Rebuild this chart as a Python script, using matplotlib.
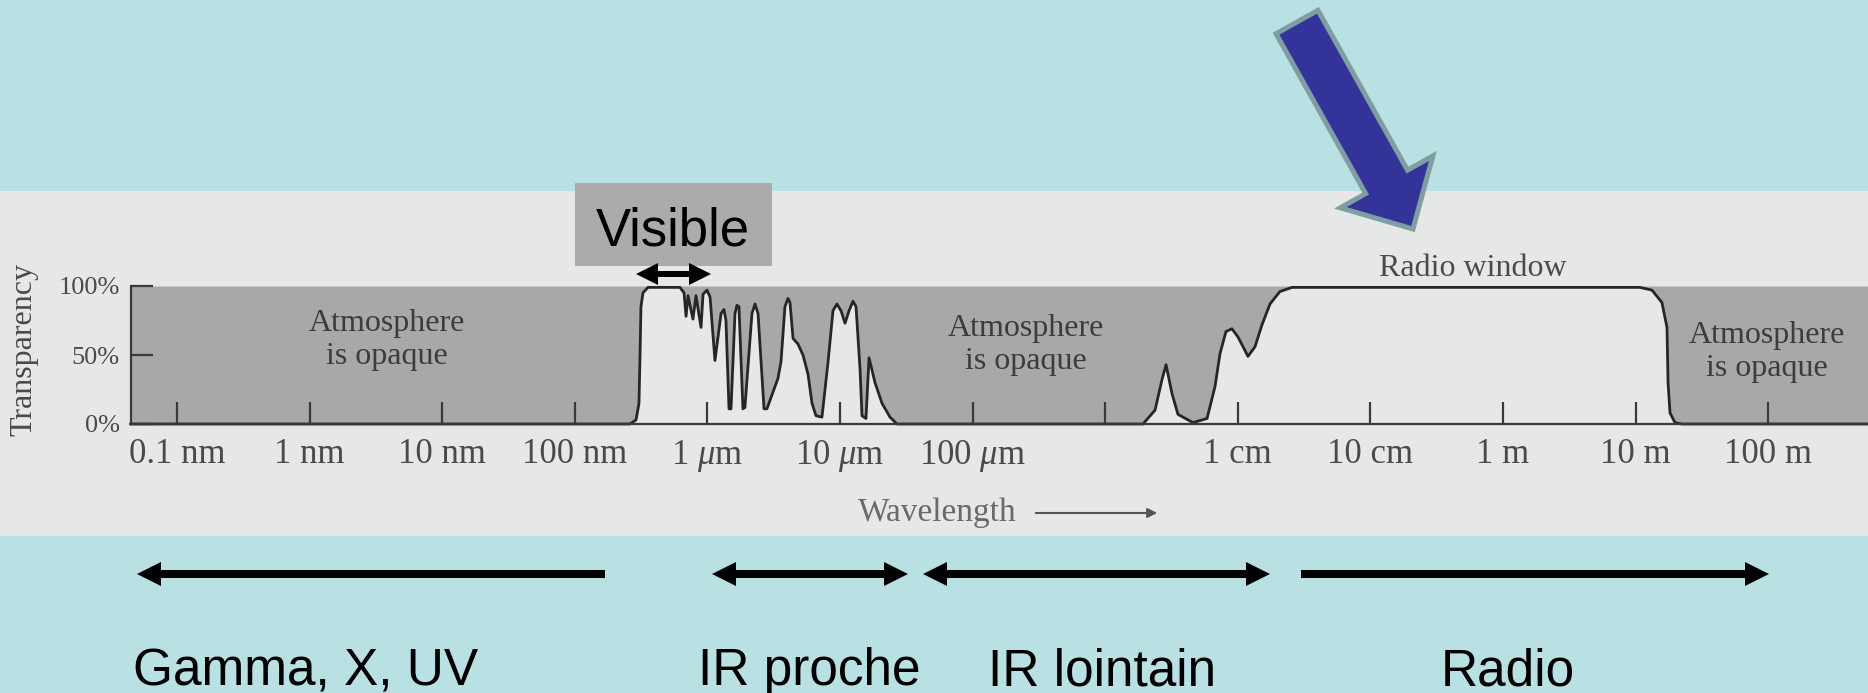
import matplotlib
matplotlib.use("Agg")
import matplotlib.pyplot as plt
from matplotlib.patches import Rectangle, FancyArrow

# Atmospheric transparency versus wavelength (log10 of wavelength in metres)
log_wavelength_m = [
    -10.35, -6.584, -6.538, -6.516, -6.508, -6.501, -6.486, -6.448, -6.207, -6.176,
    -6.161, -6.146, -6.109, -6.086, -6.048, -6.033, -6.003, -5.980, -5.943, -5.897,
    -5.875, -5.860, -5.837, -5.822, -5.792, -5.777, -5.762, -5.732, -5.717, -5.664,
    -5.641, -5.618, -5.573, -5.551, -5.468, -5.445, -5.415, -5.392, -5.377, -5.354,
    -5.317, -5.279, -5.241, -5.211, -5.181, -5.136, -5.090, -5.053, -5.023, -4.992,
    -4.962, -4.932, -4.902, -4.879, -4.849, -4.834, -4.804, -4.781, -4.736, -4.683,
    -4.623, -4.570, -2.715, -2.624, -2.572, -2.541, -2.496, -2.451, -2.338, -2.232,
    -2.172, -2.134, -2.089, -2.044, -1.998, -1.923, -1.870, -1.817, -1.757, -1.682,
    -1.591, 1.033, 1.124, 1.199, 1.237, 1.245, 1.260, 1.297, 1.350, 2.76,
]
transparency_pct = [
    0, 0, 3, 15, 50, 85, 95, 99, 99, 95,
    78, 93, 76, 93, 70, 94, 97, 92, 46, 80,
    83, 75, 11, 11, 80, 86, 85, 11, 12, 80,
    87, 80, 11, 11, 33, 45, 85, 91, 88, 62,
    58, 50, 36, 15, 6, 5, 45, 82, 87, 82,
    73, 82, 89, 85, 40, 6, 4, 48, 30, 15,
    5, 0, 0, 10, 32, 43, 22, 7, 1, 4,
    27, 51, 67, 69, 63, 49, 56, 72, 87, 96,
    99, 99, 97, 88, 70, 30, 8, 1, 0, 0,
]

tick_positions = list(range(-10, 3))
tick_labels = ["0.1 nm", "1 nm", "10 nm", "100 nm", r"1 $\mu$m", r"10 $\mu$m",
               r"100 $\mu$m", "", "1 cm", "10 cm", "1 m", "10 m", "100 m"]
y_ticks = [0, 50, 100]
y_tick_labels = ["0%", "50%", "100%"]

opaque_label = "Atmosphere\nis opaque"
band_names = ["Gamma, X, UV", "IR proche", "IR lointain", "Radio"]

plt.rcParams["font.family"] = ["Liberation Serif", "DejaVu Serif"]
plt.rcParams["mathtext.fontset"] = "custom"
plt.rcParams["mathtext.rm"] = "Liberation Serif"
plt.rcParams["mathtext.it"] = "Liberation Serif:italic"

W, H = 1868, 693
fig = plt.figure(figsize=(W / 100, H / 100), dpi=100)
fig.patch.set_facecolor("#B9E0E3")

# Background layer in pixel coordinates
bg = fig.add_axes([0, 0, 1, 1], zorder=0)
bg.set_xlim(0, W)
bg.set_ylim(H, 0)
bg.axis("off")
bg.add_patch(Rectangle((0, 191), W, 345, facecolor="#E6E7E7", lw=0))

# Transparency chart
ax = fig.add_axes([131 / W, 1 - 424 / H, 1 - 131 / W, 138 / H], zorder=1)
ax.patch.set_alpha(0)
ax.set_xlim(-10.347, 2.753)
ax.set_ylim(0, 100)
ax.fill_between(log_wavelength_m, transparency_pct, 100, color="#A8A8A8", lw=0)
ax.plot(log_wavelength_m, transparency_pct, color="#262626", lw=2.0, clip_on=False,
        solid_joinstyle="round")
for side in ["top", "right"]:
    ax.spines[side].set_visible(False)
for side in ["left", "bottom"]:
    ax.spines[side].set_color("#3a3a3a")
    ax.spines[side].set_linewidth(1.6)
ax.set_xticks(tick_positions)
ax.set_xticklabels(tick_labels)
ax.set_yticks(y_ticks)
ax.set_yticklabels(y_tick_labels)
ax.tick_params(axis="x", direction="in", length=16, width=1.6, color="#3a3a3a",
               pad=10, labelsize=25, labelcolor="#4a4a4a")
ax.tick_params(axis="y", direction="in", length=16, width=1.6, color="#3a3a3a",
               pad=8, labelsize=19, labelcolor="#4a4a4a")

# Annotation layer in pixel coordinates
ov = fig.add_axes([0, 0, 1, 1], zorder=3)
ov.set_xlim(0, W)
ov.set_ylim(H, 0)
ov.axis("off")
ov.patch.set_alpha(0)

for x, y in [(387, 340), (1026, 345), (1767, 352)]:
    ov.text(x, y, opaque_label, ha="center", va="center", fontsize=23,
            color="#3c3c3c", linespacing=1.15, multialignment="center")
ov.text(1473, 268, "Radio window", ha="center", va="center", fontsize=23, color="#4a4a4a")
ov.text(24, 350, "Transparency", ha="center", va="center", rotation=90,
        fontsize=23, color="#4a4a4a")
ov.text(937, 513, "Wavelength", ha="center", va="center", fontsize=24, color="#6a6a6a")
ov.annotate("", xy=(1160, 513), xytext=(1033, 513),
            arrowprops=dict(arrowstyle="-|>", color="#555555", lw=1.5, mutation_scale=14))

# "Visible" tag
ov.add_patch(Rectangle((575, 183), 197, 83, facecolor="#ABABAB", lw=0))
ov.text(673, 245, "Visible", ha="center", va="baseline", fontsize=38,
        family="Liberation Sans", color="black")


def black_arrow(x0, x1, y, width, head):
    ov.add_patch(FancyArrow(x0, y, x1 - x0, 0, width=width, head_width=head,
                            head_length=head, length_includes_head=True,
                            facecolor="black", lw=0))


def double_arrow(x0, x1, y, width, head):
    mid = (x0 + x1) / 2
    black_arrow(mid + 3, x0, y, width, head)
    black_arrow(mid - 3, x1, y, width, head)


double_arrow(636, 711, 274, 6, 22)

# Spectral band arrows and names
black_arrow(605, 137, 574, 8, 24)
double_arrow(712, 908, 574, 8, 24)
double_arrow(923, 1270, 574, 8, 24)
black_arrow(1301, 1769, 574, 8, 24)
for name, x in zip(band_names, [133, 698, 988, 1441]):
    ov.text(x, 685, name, ha="left", va="baseline", fontsize=37,
            family="Liberation Sans", color="black")

# Pointer towards the radio window
ov.add_patch(FancyArrow(1297, 22, 116, 207, width=48, head_width=106, head_length=54,
                        length_includes_head=True, facecolor="#333399",
                        edgecolor="#7E9EA2", lw=3.6, joinstyle="miter"))

fig.savefig("out.png", dpi=100, facecolor=fig.get_facecolor())
